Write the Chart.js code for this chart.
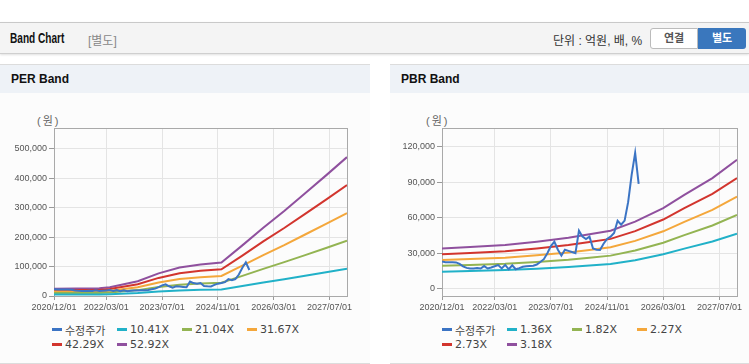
<!DOCTYPE html>
<html>
<head>
<meta charset="utf-8">
<script src="https://cdn.jsdelivr.net/npm/chart.js@4.4.1/dist/chart.umd.min.js"></script>
<style>
body { margin: 0; width: 749px; height: 364px; position: relative; overflow: hidden; background: #fff;
	font-family: 'Liberation Sans', 'Noto Sans CJK KR', sans-serif; }
.topbar { position: absolute; left: 0; top: 22px; width: 749px; height: 30px; background: #f4f4f4;
	border-top: 1px solid #c9c9c9; border-bottom: 1px solid #cfcfcf; box-shadow: 0 1px 2px rgba(0,0,0,0.12); }
.topbar .title { position: absolute; left: 10px; top: 7px; font: bold 14px 'Liberation Sans', sans-serif; color: #111;
	transform: scaleX(0.72); transform-origin: left center; }
.topbar .sub { position: absolute; left: 88px; top: 8px; font-size: 12px; color: #888; }
.topbar .unit { position: absolute; left: 553px; top: 8px; font-size: 12px; color: #333; }
.btn { position: absolute; top: 5px; height: 21px; line-height: 21px; text-align: center; font-size: 11px; font-weight: bold; }
.btn.off { left: 650px; width: 46px; background: #fff; border: 1px solid #bbb; border-radius: 3px 0 0 3px; color: #555; height: 19px; line-height: 19px; }
.btn.on { left: 698px; width: 48px; background: #3a77bd; color: #fff; border-radius: 0 3px 3px 0; }
.panel { position: absolute; top: 64px; height: 298px; background: #fcfcfc; border-top: 1px solid #dcdcdc; border-bottom: 1px solid #dcdcdc; }
.panel .head { height: 28px; background: #eef2f7; font: bold 12px 'Liberation Sans', sans-serif; color: #111; line-height: 29px; padding-left: 11px; }
.panel .unitlabel { position: absolute; top: 47px; font-size: 11px; color: #666; letter-spacing: 2px; }
.panel canvas { position: absolute; top: 35px; }
.legend { position: absolute; top: 257px; display: flex; flex-wrap: wrap; width: 270px; }
.legend .item { min-width: 65px; padding-right: 7px; box-sizing: border-box; height: 15px; display: flex; align-items: center;
	font-size: 11px; color: #444; font-family: 'DejaVu Sans', 'Noto Sans CJK KR', sans-serif; white-space: nowrap; }
.legend .mark { width: 10px; height: 3px; margin-right: 3px; flex: none; }
</style>
</head>
<body>
<div class="topbar">
	<span class="title">Band Chart</span>
	<span class="sub">[별도]</span>
	<span class="unit">단위 : 억원, 배, %</span>
	<div class="btn off">연결</div>
	<div class="btn on">별도</div>
</div>

<div class="panel" style="left:0; width:370px;">
	<div class="head">PER Band</div>
	<div class="unitlabel" style="left:37px;">(원)</div>
	<canvas id="per-chart" width="370" height="220" style="left:0; width:370px; height:220px;"></canvas>
	<div class="legend" id="per-legend" style="left:52px;"></div>
</div>

<div class="panel" style="left:390px; width:359px;">
	<div class="head">PBR Band</div>
	<div class="unitlabel" style="left:36px;">(원)</div>
	<canvas id="pbr-chart" width="359" height="220" style="left:-2px; width:359px; height:220px;"></canvas>
	<div class="legend" id="pbr-legend" style="left:52px;"></div>
</div>

<script>
// x axis labels
const xTickLabels = [ '2020/12/01', '2022/03/01', '2023/07/01', '2024/11/01', '2026/03/01', '2027/07/01' ];
const xFirst = '2020/12';
const xLast = '2027/12';

// adjusted price (수정주가), monthly from 2020/12
const priceStart = '2020/12';
const price = [ 23000, 22500, 22500, 22500, 22300, 21000, 19000, 17700, 17200, 17200,
	17500, 17200, 19200, 17200, 18000, 19000, 20000, 17200, 20200, 16500,
	19800, 16500, 17500, 18600, 19000, 19300, 19500, 20500, 22600, 25000,
	30000, 36000, 39700, 33000, 28000, 33000, 32000, 31000, 30000, 49000,
	44000, 42000, 44000, 34000, 33000, 32700, 38000, 42000, 44000, 47000,
	57300, 54000, 57500, 73000, 96000, 114500, 88500 ];

// PER band
const perMonths = [ '2020/12', '2022/01', '2022/04', '2022/12', '2023/06', '2023/12', '2024/06',
	'2024/12', '2025/06', '2025/12', '2026/06', '2026/12', '2027/06', '2027/12' ];
const per10 = [ 4900, 5100, 5900, 9900, 15200, 19100, 21100, 22500, 33900, 45700, 56900, 68800, 80800, 93000 ];
const per21 = [ 10000, 10300, 12000, 20000, 30600, 38600, 42600, 45400, 68500, 92300, 115000, 139000, 163000, 188000 ];
const per31 = [ 15000, 15500, 18000, 30000, 46000, 58000, 64000, 68000, 103000, 139000, 173000, 209000, 245000, 282000 ];
const per42 = [ 20000, 20800, 24000, 40000, 61500, 77500, 85500, 91000, 137500, 185500, 231000, 279000, 327500, 377000 ];
const per52 = [ 25000, 26000, 30000, 50000, 77000, 97000, 107000, 114000, 172000, 232000, 289000, 349000, 410000, 472000 ];
const perLabels = [ '수정주가', '10.41X', '21.04X', '31.67X', '42.29X', '52.92X' ];
const perTicks = [ 0, 100000, 200000, 300000, 400000, 500000 ];

// PBR band
const pbrMonths = [ '2020/12', '2021/08', '2022/06', '2023/03', '2023/12', '2024/06',
	'2024/12', '2025/07', '2026/03', '2026/09', '2027/05', '2027/12' ];
const pbr136 = [ 14500, 15100, 15800, 17000, 18400, 19700, 21000, 24200, 29100, 33900, 39900, 46500 ];
const pbr182 = [ 19500, 20100, 21100, 22700, 24600, 26300, 28000, 32400, 38900, 45300, 53400, 62300 ];
const pbr227 = [ 24300, 25100, 26300, 28300, 30700, 32800, 35000, 40400, 48500, 56500, 66600, 77700 ];
const pbr273 = [ 29200, 30200, 31700, 34100, 36900, 39500, 42100, 48600, 58400, 68000, 80100, 93400 ];
const pbr318 = [ 34000, 35200, 36900, 39700, 43000, 46000, 49000, 56600, 68000, 79200, 93300, 108800 ];
const pbrLabels = [ '수정주가', '1.36X', '1.82X', '2.27X', '2.73X', '3.18X' ];
const pbrTicks = [ 0, 30000, 60000, 90000, 120000 ];

const colors = [ '#3b74c4', '#21b1c8', '#93b452', '#f4a73b', '#d2352e', '#8f509e' ];

function monthIndex( s ) {
	const parts = s.split( '/' ).map( Number );
	const base = xFirst.split( '/' ).map( Number );
	return ( parts[ 0 ] - base[ 0 ] ) * 12 + ( parts[ 1 ] - base[ 1 ] );
}

function toPoints( months, values ) {
	return values.map( ( v, i ) => ( { x: monthIndex( months[ i ] ), y: v } ) );
}

function pricePoints() {
	const start = monthIndex( priceStart );
	return price.map( ( v, i ) => ( { x: start + i, y: v } ) );
}

// draw the box round the plot area
const plotBox = {
	id: 'plotBox',
	beforeDatasetsDraw: function ( chart ) {
		const a = chart.chartArea;
		const ctx = chart.ctx;
		ctx.save();
		ctx.strokeStyle = '#a9a9a9';
		ctx.lineWidth = 1;
		ctx.strokeRect( Math.round( a.left ) + 0.5, Math.round( a.top ) + 0.5,
			Math.round( a.right - a.left ), Math.round( a.bottom - a.top ) );
		ctx.restore();
	}
};

Chart.defaults.font.family = "'Liberation Sans', sans-serif";
Chart.defaults.font.size = 9;
Chart.defaults.color = '#555';

function makeChart( canvas, bands, months, labels, ticks, yMin, yMax, axisWidth, padRight ) {
	const datasets = [ {
		label: labels[ 0 ],
		data: pricePoints(),
		borderColor: colors[ 0 ]
	} ];
	bands.forEach( ( values, i ) => {
		datasets.push( {
			label: labels[ i + 1 ],
			data: toPoints( months, values ),
			borderColor: colors[ i + 1 ]
		} );
	} );
	return new Chart( canvas, {
		type: 'line',
		data: { datasets: datasets },
		plugins: [ plotBox ],
		options: {
			responsive: false,
			animation: false,
			events: [],
			layout: { padding: { top: 28, right: padRight, bottom: 0, left: 0 } },
			elements: {
				point: { radius: 0 },
				line: { borderWidth: 2, tension: 0 }
			},
			plugins: {
				legend: { display: false },
				tooltip: { enabled: false }
			},
			scales: {
				x: {
					type: 'linear',
					min: monthIndex( xFirst ),
					max: monthIndex( xLast ),
					afterBuildTicks: function ( scale ) {
						scale.ticks = xTickLabels.map( ( l ) => ( { value: monthIndex( l ) } ) );
					},
					afterFit: function ( scale ) {
						scale.height = 24;
					},
					ticks: {
						autoSkip: false,
						maxRotation: 0,
						padding: 2,
						callback: function ( value ) {
							return xTickLabels.find( ( l ) => monthIndex( l ) === value );
						}
					},
					grid: { color: '#e4e4e4', tickColor: '#999', tickLength: 4 },
					border: { display: false }
				},
				y: {
					min: yMin,
					max: yMax,
					afterBuildTicks: function ( scale ) {
						scale.ticks = ticks.map( ( v ) => ( { value: v } ) );
					},
					afterFit: function ( scale ) {
						scale.width = axisWidth;
					},
					ticks: {
						padding: 2,
						callback: function ( value ) {
							return value.toLocaleString( 'en-US' );
						}
					},
					grid: { color: '#e4e4e4', tickColor: '#999', tickLength: 5 },
					border: { display: false }
				}
			}
		}
	} );
}

function makeLegend( div, labels ) {
	labels.forEach( ( label, i ) => {
		const item = document.createElement( 'span' );
		item.className = 'item';
		const mark = document.createElement( 'span' );
		mark.className = 'mark';
		mark.style.background = colors[ i ];
		item.appendChild( mark );
		item.appendChild( document.createTextNode( label ) );
		div.appendChild( item );
	} );
}

makeChart( document.getElementById( 'per-chart' ), [ per10, per21, per31, per42, per52 ],
	perMonths, perLabels, perTicks, 0, 571000, 54, 23 );
makeChart( document.getElementById( 'pbr-chart' ), [ pbr136, pbr182, pbr227, pbr273, pbr318 ],
	pbrMonths, pbrLabels, pbrTicks, -6000, 135500, 54, 10 );
makeLegend( document.getElementById( 'per-legend' ), perLabels );
makeLegend( document.getElementById( 'pbr-legend' ), pbrLabels );
</script>
</body>
</html>
